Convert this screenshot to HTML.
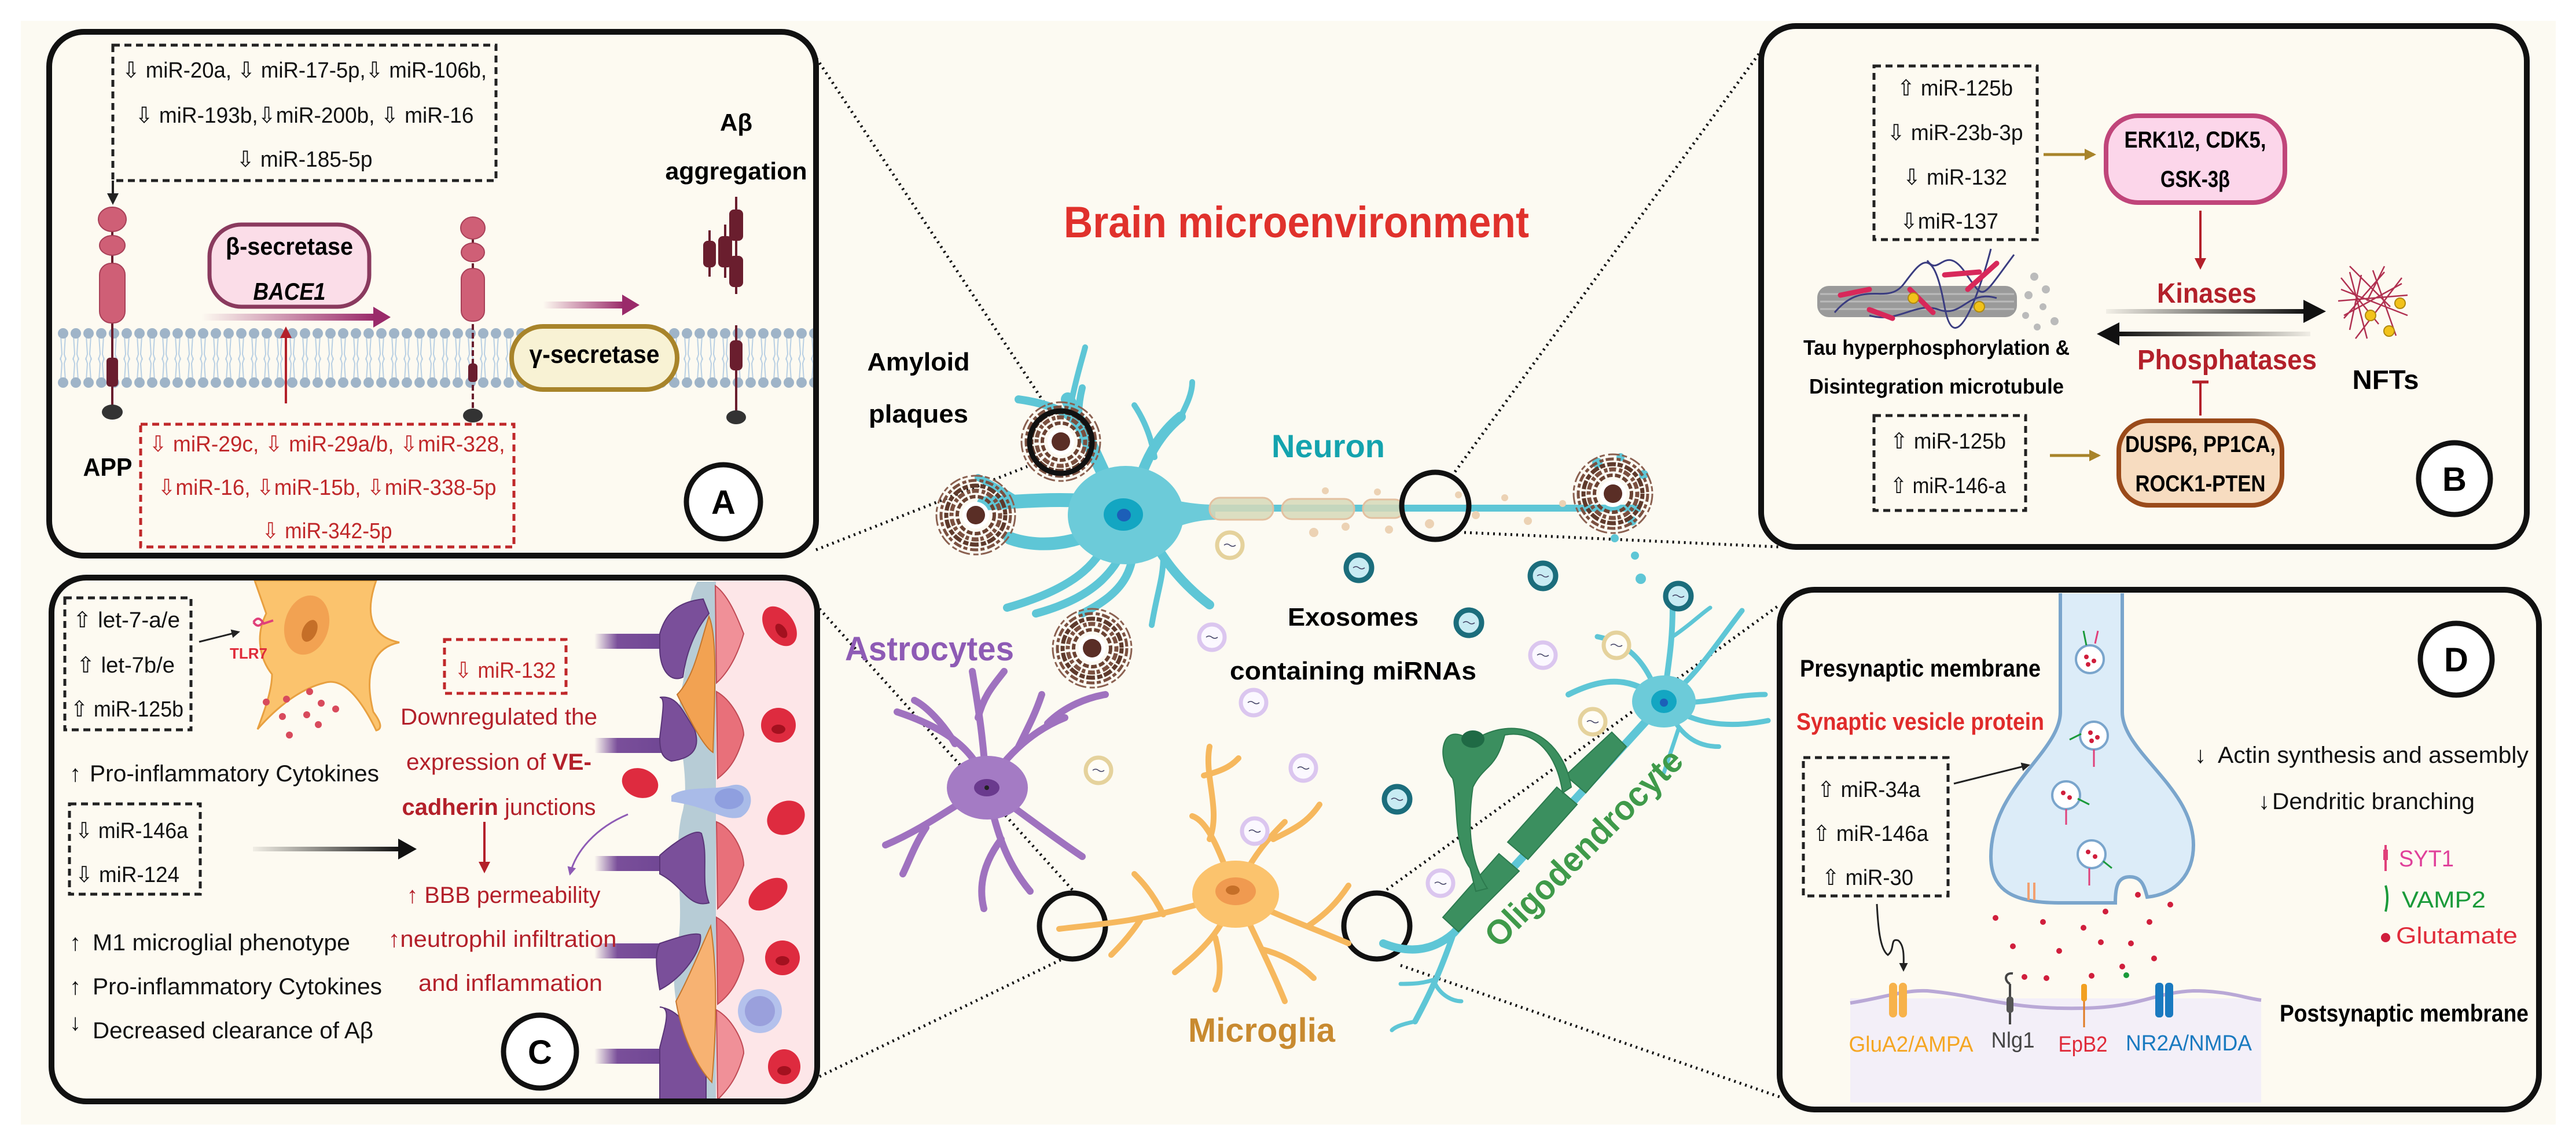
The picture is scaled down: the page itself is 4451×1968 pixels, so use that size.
<!DOCTYPE html>
<html><head><meta charset="utf-8"><style>
html,body{margin:0;padding:0;background:#fff}
svg{display:block}
text{font-family:"Liberation Sans",sans-serif}
</style></head><body>
<svg width="4451" height="1968" viewBox="0 0 4451 1968" xmlns="http://www.w3.org/2000/svg">
<defs>
<marker id="ak" viewBox="0 0 10 10" refX="8" refY="5" markerWidth="5" markerHeight="5" orient="auto"><path d="M0,0L10,5L0,10z" fill="#222"/></marker>
<marker id="ar" viewBox="0 0 10 10" refX="8" refY="5" markerWidth="5" markerHeight="5" orient="auto"><path d="M0,0L10,5L0,10z" fill="#b3202a"/></marker>
<marker id="ag" viewBox="0 0 10 10" refX="8" refY="5" markerWidth="4" markerHeight="4" orient="auto"><path d="M0,0L10,5L0,10z" fill="#a8842a"/></marker>
<marker id="av" viewBox="0 0 10 10" refX="8" refY="5" markerWidth="5" markerHeight="5" orient="auto"><path d="M0,0L10,5L0,10z" fill="#8e5bb5"/></marker>
<linearGradient id="gp" x1="0" x2="1" y1="0" y2="0"><stop offset="0" stop-color="#9a2a6a" stop-opacity="0"/><stop offset="1" stop-color="#9a2a6a"/></linearGradient>
<linearGradient id="gk" x1="0" x2="1" y1="0" y2="0"><stop offset="0" stop-color="#111" stop-opacity="0.05"/><stop offset="1" stop-color="#111"/></linearGradient>
<linearGradient id="gk2" x1="1" x2="0" y1="0" y2="0"><stop offset="0" stop-color="#111" stop-opacity="0.05"/><stop offset="1" stop-color="#111"/></linearGradient>
<linearGradient id="gv" gradientUnits="userSpaceOnUse" x1="1027" x2="1160" y1="0" y2="0"><stop offset="0" stop-color="#7a4f9a" stop-opacity="0"/><stop offset="0.3" stop-color="#7a4f9a"/><stop offset="1" stop-color="#6e4593"/></linearGradient>
<pattern id="mem" x="98" y="0" width="22" height="1968" patternUnits="userSpaceOnUse">
<path d="M7,580 L9,612 L6,622 M15,580 L13,612 L16,622 M7,657 L9,628 L6,618 M15,657 L13,628 L16,618" stroke="#b8cfe3" stroke-width="2" fill="none"/>
<circle cx="11" cy="576" r="9" fill="#9fb4c8"/><circle cx="11" cy="661" r="9" fill="#9fb4c8"/>
</pattern>
<clipPath id="clipC"><rect x="89" y="998" width="1323" height="905" rx="60"/></clipPath>
<g id="exoG"><circle r="22" fill="#fffdf6" stroke="#e5d29c" stroke-width="7"/><path d="M-10,0 q5,-4 10,0 t10,0" stroke="#446" stroke-width="1.5" fill="none"/></g>
<g id="exoT"><circle r="22" fill="#c8ebf3" stroke="#1b6d7c" stroke-width="9"/><path d="M-10,0 q5,-4 10,0 t10,0" stroke="#446" stroke-width="1.5" fill="none"/></g>
<g id="exoL"><circle r="22" fill="#fbf8ff" stroke="#dbc6ef" stroke-width="7"/><path d="M-10,0 q5,-4 10,0 t10,0" stroke="#446" stroke-width="1.5" fill="none"/></g>
<g id="plq">
<circle r="68" fill="none" stroke="#8a6050" stroke-width="3" stroke-dasharray="20 4 9 6"/>
<circle r="60" fill="none" stroke="#7a5040" stroke-width="5" stroke-dasharray="14 5 7 4"/>
<circle r="51" fill="none" stroke="#5e3a2c" stroke-width="7" stroke-dasharray="9 4 15 3"/>
<circle r="42" fill="none" stroke="#7a5040" stroke-width="7" stroke-dasharray="6 3 12 5"/>
<circle r="32" fill="none" stroke="#6a4232" stroke-width="6" stroke-dasharray="10 4"/>
<circle r="23" fill="#fff"/>
<circle r="16" fill="#5a2e26"/>
</g>
</defs>

<rect x="36" y="36" width="4380" height="1907" fill="#fcfaf2"/>

<!-- dotted connectors -->
<g stroke="#111" stroke-width="5" stroke-dasharray="3 7" fill="none">
<line x1="1405" y1="92" x2="1815" y2="712"/>
<line x1="1410" y1="950" x2="1775" y2="806"/>
<line x1="3045" y1="85" x2="2512" y2="818"/>
<line x1="2530" y1="920" x2="3075" y2="945"/>
<line x1="1416" y1="1052" x2="1858" y2="1543"/>
<line x1="1416" y1="1860" x2="1840" y2="1655"/>
<line x1="2388" y1="1543" x2="3075" y2="1045"/>
<line x1="2420" y1="1668" x2="3080" y2="1897"/>
</g>

<!-- ============ PANEL A ============ -->
<rect x="85" y="55" width="1325" height="905" rx="60" fill="#fdfaf1" stroke="#111" stroke-width="10"/>
<rect x="98" y="566" width="1307" height="106" fill="url(#mem)"/>
<rect x="195" y="78" width="662" height="234" fill="none" stroke="#222" stroke-width="5" stroke-dasharray="12 8"/>
<g font-size="38" fill="#111" text-anchor="middle">
<text x="526" y="134" textLength="630" lengthAdjust="spacingAndGlyphs">⇩ miR-20a, ⇩ miR-17-5p,⇩ miR-106b,</text>
<text x="526" y="212" textLength="585" lengthAdjust="spacingAndGlyphs">⇩ miR-193b,⇩miR-200b, ⇩ miR-16</text>
<text x="526" y="288" textLength="235" lengthAdjust="spacingAndGlyphs">⇩ miR-185-5p</text>
</g>
<line x1="195" y1="312" x2="195" y2="350" stroke="#222" stroke-width="4" marker-end="url(#ak)"/>
<g fill="#cf5f76" stroke="#a84058" stroke-width="2">
<line x1="194" y1="400" x2="194" y2="712" stroke="#6a1e2e" stroke-width="4"/>
<ellipse cx="194" cy="379" rx="24" ry="21"/><ellipse cx="194" cy="424" rx="22" ry="17"/>
<rect x="172" y="455" width="44" height="103" rx="20"/>
<rect x="184" y="618" width="20" height="50" rx="6" fill="#6a1e2e" stroke="none"/>
<ellipse cx="194" cy="712" rx="18" ry="13" fill="#333" stroke="none"/>
</g>
<text x="186" y="822" font-size="44" font-weight="bold" text-anchor="middle" textLength="85" lengthAdjust="spacingAndGlyphs">APP</text>
<rect x="362" y="388" width="276" height="142" rx="55" fill="#fbdde8" stroke="#8a3a5e" stroke-width="7"/>
<text x="500" y="440" font-size="42" font-weight="bold" text-anchor="middle" textLength="220" lengthAdjust="spacingAndGlyphs">β-secretase</text>
<text x="500" y="518" font-size="42" font-weight="bold" font-style="italic" text-anchor="middle" textLength="125" lengthAdjust="spacingAndGlyphs">BACE1</text>
<rect x="348" y="542" width="300" height="12" fill="url(#gp)"/><polygon points="645,530 675,548 645,566" fill="#9a2a6a"/>
<line x1="494" y1="697" x2="494" y2="568" stroke="#b3202a" stroke-width="4" marker-end="url(#ar)"/>
<g fill="#cf5f76" stroke="#a84058" stroke-width="2">
<line x1="817" y1="410" x2="817" y2="718" stroke="#6a1e2e" stroke-width="4" stroke-dasharray="10 5"/>
<ellipse cx="817" cy="394" rx="21" ry="19"/><ellipse cx="817" cy="436" rx="20" ry="16"/>
<rect x="797" y="464" width="40" height="91" rx="18"/>
<rect x="809" y="628" width="16" height="32" rx="6" fill="#6a1e2e" stroke="none"/>
<ellipse cx="817" cy="718" rx="17" ry="12" fill="#333" stroke="none"/>
</g>
<rect x="938" y="521" width="140" height="12" fill="url(#gp)"/><polygon points="1075,509 1105,527 1075,545" fill="#9a2a6a"/>
<rect x="884" y="564" width="286" height="109" rx="54" fill="#f8f2d4" stroke="#a8842a" stroke-width="8"/>
<text x="1027" y="627" font-size="44" font-weight="bold" text-anchor="middle" textLength="225" lengthAdjust="spacingAndGlyphs">γ-secretase</text>
<text x="1272" y="226" font-size="42" font-weight="bold" text-anchor="middle">Aβ</text>
<text x="1272" y="310" font-size="42" font-weight="bold" text-anchor="middle" textLength="245" lengthAdjust="spacingAndGlyphs">aggregation</text>
<g fill="#6a1e2e" stroke="#6a1e2e" stroke-width="4">
<line x1="1272" y1="340" x2="1272" y2="508"/><rect x="1262" y="364" width="20" height="50" rx="6"/><rect x="1262" y="444" width="20" height="50" rx="6"/>
<line x1="1253" y1="388" x2="1253" y2="480"/><rect x="1243" y="410" width="20" height="50" rx="6"/>
<line x1="1226" y1="398" x2="1226" y2="478"/><rect x="1217" y="418" width="18" height="42" rx="6"/>
<line x1="1272" y1="562" x2="1272" y2="712"/><rect x="1263" y="590" width="18" height="48" rx="6"/>
<ellipse cx="1272" cy="721" rx="17" ry="12" fill="#333" stroke="none"/>
</g>
<rect x="243" y="733" width="645" height="212" fill="none" stroke="#c0282a" stroke-width="5" stroke-dasharray="12 8"/>
<g font-size="38" fill="#c0282a" text-anchor="middle">
<text x="565" y="780" textLength="615" lengthAdjust="spacingAndGlyphs">⇩ miR-29c, ⇩ miR-29a/b, ⇩miR-328,</text>
<text x="565" y="855" textLength="585" lengthAdjust="spacingAndGlyphs">⇩miR-16, ⇩miR-15b, ⇩miR-338-5p</text>
<text x="565" y="930" textLength="225" lengthAdjust="spacingAndGlyphs">⇩ miR-342-5p</text>
</g>
<circle cx="1250" cy="867" r="64" fill="#fff" stroke="#111" stroke-width="9"/>
<text x="1250" y="888" font-size="58" font-weight="bold" text-anchor="middle">A</text>

<!-- ============ PANEL B ============ -->
<rect x="3043" y="45" width="1323" height="900" rx="60" fill="#fdfaf1" stroke="#111" stroke-width="10"/>
<rect x="3238" y="114" width="282" height="300" fill="none" stroke="#222" stroke-width="5" stroke-dasharray="12 8"/>
<g font-size="38" fill="#111" text-anchor="middle">
<text x="3378" y="165" textLength="200" lengthAdjust="spacingAndGlyphs">⇧ miR-125b</text>
<text x="3378" y="242" textLength="235" lengthAdjust="spacingAndGlyphs">⇩ miR-23b-3p</text>
<text x="3378" y="319" textLength="180" lengthAdjust="spacingAndGlyphs">⇩ miR-132</text>
<text x="3368" y="395" textLength="170" lengthAdjust="spacingAndGlyphs">⇩miR-137</text>
</g>
<line x1="3531" y1="267" x2="3618" y2="267" stroke="#a8842a" stroke-width="5" marker-end="url(#ag)"/>
<rect x="3639" y="200" width="309" height="150" rx="55" fill="#fcd6ea" stroke="#c0457a" stroke-width="8"/>
<text x="3793" y="255" font-size="40" font-weight="bold" text-anchor="middle" textLength="245" lengthAdjust="spacingAndGlyphs">ERK1\2, CDK5,</text>
<text x="3793" y="323" font-size="40" font-weight="bold" text-anchor="middle" textLength="120" lengthAdjust="spacingAndGlyphs">GSK-3β</text>
<line x1="3802" y1="364" x2="3802" y2="462" stroke="#b3202a" stroke-width="4" marker-end="url(#ar)"/>
<text x="3813" y="523" font-size="48" font-weight="bold" fill="#b3202a" text-anchor="middle" textLength="172" lengthAdjust="spacingAndGlyphs">Kinases</text>
<rect x="3639" y="534" width="345" height="8" fill="url(#gk)"/><polygon points="3980,518 4019,538 3980,558" fill="#111"/>
<rect x="3660" y="573" width="332" height="8" fill="url(#gk2)"/><polygon points="3662,557 3623,577 3662,597" fill="#111"/>
<text x="3848" y="638" font-size="48" font-weight="bold" fill="#b3202a" text-anchor="middle" textLength="310" lengthAdjust="spacingAndGlyphs">Phosphatases</text>
<line x1="3802" y1="718" x2="3802" y2="660" stroke="#b3202a" stroke-width="4"/><line x1="3788" y1="660" x2="3816" y2="660" stroke="#b3202a" stroke-width="5"/>
<rect x="3661" y="727" width="282" height="146" rx="52" fill="#f7dcc0" stroke="#9a4a1a" stroke-width="8"/>
<text x="3802" y="781" font-size="40" font-weight="bold" text-anchor="middle" textLength="260" lengthAdjust="spacingAndGlyphs">DUSP6, PP1CA,</text>
<text x="3802" y="849" font-size="40" font-weight="bold" text-anchor="middle" textLength="225" lengthAdjust="spacingAndGlyphs">ROCK1-PTEN</text>
<rect x="3238" y="718" width="262" height="164" fill="none" stroke="#222" stroke-width="5" stroke-dasharray="12 8"/>
<g font-size="38" fill="#111" text-anchor="middle">
<text x="3366" y="775" textLength="200" lengthAdjust="spacingAndGlyphs">⇧ miR-125b</text>
<text x="3366" y="852" textLength="200" lengthAdjust="spacingAndGlyphs">⇧ miR-146-a</text>
</g>
<line x1="3542" y1="787" x2="3626" y2="787" stroke="#a8842a" stroke-width="5" marker-end="url(#ag)"/>
<rect x="3140" y="494" width="345" height="54" rx="20" fill="#9a9a9a"/>
<g stroke="#bbb" stroke-width="3"><line x1="3145" y1="508" x2="3480" y2="508"/><line x1="3145" y1="521" x2="3480" y2="521"/><line x1="3145" y1="534" x2="3480" y2="534"/></g>
<g fill="none" stroke-width="3" stroke="#3a3c80"><path d="M3170,540 C3220,480 3260,530 3290,490 S3340,420 3360,530 S3430,470 3440,430"/><path d="M3230,545 C3280,560 3310,520 3350,535 S3400,500 3450,515"/><path d="M3330,450 C3350,480 3360,420 3395,470 S3420,520 3480,440"/></g>
<g stroke="#d8285a" stroke-width="9" stroke-linecap="round"><line x1="3180" y1="510" x2="3230" y2="500"/><line x1="3300" y1="500" x2="3340" y2="540"/><line x1="3360" y1="475" x2="3420" y2="470"/><line x1="3400" y1="500" x2="3450" y2="455"/><line x1="3230" y1="535" x2="3270" y2="550"/></g>
<circle cx="3306" cy="515" r="9" fill="#f2c21a" stroke="#b08a10" stroke-width="2"/><circle cx="3420" cy="530" r="9" fill="#f2c21a" stroke="#b08a10" stroke-width="2"/>
<g fill="#bbb"><circle cx="3515" cy="478" r="7"/><circle cx="3535" cy="500" r="7"/><circle cx="3505" cy="510" r="7"/><circle cx="3530" cy="530" r="6"/><circle cx="3500" cy="545" r="6"/><circle cx="3550" cy="555" r="7"/><circle cx="3520" cy="565" r="6"/></g>
<text x="3346" y="613" font-size="36" font-weight="bold" text-anchor="middle" textLength="460" lengthAdjust="spacingAndGlyphs">Tau hyperphosphorylation &amp;</text>
<text x="3346" y="680" font-size="36" font-weight="bold" text-anchor="middle" textLength="440" lengthAdjust="spacingAndGlyphs">Disintegration microtubule</text>
<g stroke="#b03050" stroke-width="2.5" fill="none"><path d="M4045,480 L4110,560 M4060,470 L4090,585 M4080,475 L4060,570 M4120,470 L4050,550 M4040,520 L4160,510 M4050,545 L4150,490 M4100,467 L4140,580 M4150,480 L4070,585 M4045,500 L4160,545 M4090,520 L4120,460 M4130,530 L4060,460"/></g>
<circle cx="4096" cy="545" r="9" fill="#f2c21a" stroke="#b08a10" stroke-width="2"/><circle cx="4147" cy="524" r="9" fill="#f2c21a" stroke="#b08a10" stroke-width="2"/><circle cx="4128" cy="572" r="9" fill="#f2c21a" stroke="#b08a10" stroke-width="2"/>
<text x="4122" y="672" font-size="46" font-weight="bold" text-anchor="middle" textLength="115" lengthAdjust="spacingAndGlyphs">NFTs</text>
<circle cx="4241" cy="827" r="62" fill="#fff" stroke="#111" stroke-width="9"/>
<text x="4241" y="848" font-size="58" font-weight="bold" text-anchor="middle">B</text>

<!-- ============ PANEL C ============ -->
<rect x="89" y="998" width="1323" height="905" rx="60" fill="#fdfaf1"/>
<g clip-path="url(#clipC)">
<path d="M440,1003 L650,1003 C630,1060 640,1100 690,1110 C640,1120 630,1170 645,1230 C660,1250 660,1260 650,1262 C620,1200 590,1170 560,1180 C520,1190 480,1220 445,1260 C460,1220 470,1190 470,1165 C450,1140 440,1100 460,1060 Z" fill="#fbc36d" stroke="#e8a040" stroke-width="3"/>
<ellipse cx="530" cy="1080" rx="38" ry="52" fill="#f2a252" transform="rotate(15 530 1080)"/>
<ellipse cx="535" cy="1090" rx="12" ry="20" fill="#c56f28" transform="rotate(25 535 1090)"/>
<g fill="#d84a5c"><circle cx="460" cy="1213" r="6"/><circle cx="495" cy="1208" r="6"/><circle cx="535" cy="1195" r="6"/><circle cx="555" cy="1215" r="6"/><circle cx="488" cy="1238" r="6"/><circle cx="530" cy="1235" r="6"/><circle cx="580" cy="1225" r="6"/><circle cx="550" cy="1252" r="6"/><circle cx="500" cy="1270" r="6"/></g>
<rect x="1233" y="1000" width="180" height="910" fill="#fde6e8"/>
<rect x="1207" y="1005" width="30" height="900" fill="#b7ccd6"/>
<path d="M1205,1005 L1235,1005 L1235,1900 L1205,1900 C1190,1800 1150,1720 1170,1640 C1185,1560 1160,1470 1180,1400 C1195,1330 1160,1260 1180,1180 C1195,1100 1180,1050 1205,1005Z" fill="#b7ccd6"/>
<g stroke="url(#gv)" stroke-width="26"><line x1="1027" y1="1108" x2="1160" y2="1108"/><line x1="1027" y1="1288" x2="1160" y2="1288"/><line x1="1027" y1="1492" x2="1160" y2="1492"/><line x1="1027" y1="1643" x2="1160" y2="1643"/><line x1="1027" y1="1825" x2="1160" y2="1825"/></g>
<g fill="#7a4f9a" stroke="#5a3578" stroke-width="2">
<path d="M1140,1095 C1150,1060 1170,1040 1215,1035 L1225,1060 C1200,1090 1185,1130 1180,1170 C1160,1180 1140,1160 1140,1120Z"/>
<path d="M1140,1275 C1145,1230 1150,1205 1140,1205 C1170,1200 1180,1230 1200,1260 C1210,1290 1200,1310 1160,1315 C1145,1310 1140,1300 1140,1275Z"/>
<path d="M1140,1478 C1160,1460 1200,1430 1212,1440 C1225,1480 1210,1520 1225,1560 C1190,1570 1180,1530 1140,1510Z"/>
<path d="M1140,1630 C1170,1620 1200,1610 1210,1615 C1215,1640 1180,1690 1140,1710 C1135,1680 1130,1650 1140,1630Z"/>
<path d="M1140,1810 C1150,1770 1160,1740 1140,1740 C1180,1745 1200,1790 1220,1840 L1220,1900 L1140,1900Z"/>
</g>
<g fill="#f2a252" stroke="#c5772e" stroke-width="2">
<path d="M1225,1065 C1240,1100 1235,1200 1232,1300 C1215,1290 1190,1240 1170,1200 C1200,1170 1210,1110 1225,1065Z"/>
<path d="M1228,1600 C1240,1680 1238,1780 1230,1870 C1210,1850 1180,1800 1168,1730 C1190,1690 1210,1640 1228,1600Z" fill="#f7b272"/>
</g>
<g fill="#e8707a" stroke="#c04a55" stroke-width="2">
<path d="M1236,1012 C1260,1030 1275,1070 1285,1095 C1275,1130 1260,1160 1238,1180Z" fill="#f09098"/>
<path d="M1238,1195 C1265,1210 1285,1250 1285,1270 C1275,1310 1260,1330 1240,1345Z"/>
<path d="M1238,1420 C1265,1430 1285,1470 1285,1495 C1275,1530 1260,1550 1240,1570Z"/>
<path d="M1238,1585 C1265,1600 1285,1640 1285,1660 C1275,1700 1260,1720 1240,1735Z"/>
<path d="M1238,1745 C1265,1760 1285,1800 1285,1820 C1275,1860 1260,1880 1240,1900Z" fill="#f09098"/>
</g>
<path d="M1160,1375 C1180,1358 1230,1365 1260,1358 C1300,1345 1310,1395 1280,1412 C1250,1420 1230,1395 1160,1385Z" fill="#a9bbe8"/>
<ellipse cx="1260" cy="1380" rx="25" ry="18" fill="#8f9fdf"/>
<g fill="#de2b3f"><ellipse cx="1347" cy="1082" rx="25" ry="38" transform="rotate(-35 1347 1082)"/><ellipse cx="1345" cy="1253" rx="30" ry="30"/><ellipse cx="1358" cy="1413" rx="28" ry="34" transform="rotate(60 1358 1413)"/><ellipse cx="1327" cy="1545" rx="22" ry="38" transform="rotate(55 1327 1545)"/><ellipse cx="1352" cy="1655" rx="30" ry="30"/><ellipse cx="1355" cy="1843" rx="28" ry="30"/><ellipse cx="1106" cy="1353" rx="32" ry="25" transform="rotate(20 1106 1353)"/></g>
<g fill="#a3111f"><ellipse cx="1350" cy="1090" rx="8" ry="14" transform="rotate(-35 1350 1090)"/><ellipse cx="1345" cy="1260" rx="12" ry="8"/><ellipse cx="1352" cy="1660" rx="12" ry="8"/><ellipse cx="1355" cy="1850" rx="12" ry="8"/></g>
<circle cx="1313" cy="1747" r="38" fill="#b4c1ec"/><circle cx="1313" cy="1747" r="26" fill="#9aa0dc"/>
</g>
<rect x="89" y="998" width="1323" height="905" rx="60" fill="none" stroke="#111" stroke-width="10"/>
<rect x="112" y="1033" width="218" height="228" fill="none" stroke="#222" stroke-width="5" stroke-dasharray="12 8"/>
<g font-size="38" fill="#111">
<text x="126" y="1084" textLength="185" lengthAdjust="spacingAndGlyphs">⇧ let-7-a/e</text>
<text x="132" y="1162" textLength="170" lengthAdjust="spacingAndGlyphs">⇧ let-7b/e</text>
<text x="122" y="1238" textLength="195" lengthAdjust="spacingAndGlyphs">⇧ miR-125b</text>
</g>
<line x1="344" y1="1109" x2="412" y2="1092" stroke="#222" stroke-width="3" marker-end="url(#ak)"/>
<path d="M438,1075 q8,-12 16,0 q-8,12 -16,0 M454,1078 l18,-6" stroke="#e0407a" stroke-width="4" fill="none"/>
<text x="397" y="1138" font-size="26" font-weight="bold" fill="#e02b3a">TLR7</text>
<g font-size="40" fill="#111">
<text x="120" y="1350">↑</text><text x="155" y="1350" textLength="500" lengthAdjust="spacingAndGlyphs">Pro-inflammatory Cytokines</text>
<text x="120" y="1642">↑</text><text x="160" y="1642" textLength="445" lengthAdjust="spacingAndGlyphs">M1 microglial phenotype</text>
<text x="120" y="1718">↑</text><text x="160" y="1718" textLength="500" lengthAdjust="spacingAndGlyphs">Pro-inflammatory Cytokines</text>
<text x="120" y="1780">↓</text><text x="160" y="1794" textLength="485" lengthAdjust="spacingAndGlyphs">Decreased clearance of Aβ</text>
</g>
<rect x="120" y="1389" width="226" height="156" fill="none" stroke="#222" stroke-width="5" stroke-dasharray="12 8"/>
<g font-size="38" fill="#111">
<text x="130" y="1448" textLength="195" lengthAdjust="spacingAndGlyphs">⇩ miR-146a</text>
<text x="130" y="1524" textLength="180" lengthAdjust="spacingAndGlyphs">⇩ miR-124</text>
</g>
<rect x="437" y="1463" width="255" height="8" fill="url(#gk)"/><polygon points="688,1449 720,1467 688,1485" fill="#111"/>
<rect x="768" y="1105" width="210" height="93" fill="none" stroke="#c0282a" stroke-width="5" stroke-dasharray="12 8"/>
<text x="873" y="1171" font-size="38" fill="#c0282a" text-anchor="middle" textLength="175" lengthAdjust="spacingAndGlyphs">⇩ miR-132</text>
<g font-size="40" fill="#b3202a" text-anchor="middle">
<text x="862" y="1252" textLength="340" lengthAdjust="spacingAndGlyphs">Downregulated the</text>
<text x="862" y="1330" textLength="320" lengthAdjust="spacingAndGlyphs">expression of <tspan font-weight="bold">VE-</tspan></text>
<text x="862" y="1408" textLength="335" lengthAdjust="spacingAndGlyphs"><tspan font-weight="bold">cadherin</tspan> junctions</text>
<text x="870" y="1560" textLength="335" lengthAdjust="spacingAndGlyphs">↑ BBB permeability</text>
<text x="868" y="1636" textLength="395" lengthAdjust="spacingAndGlyphs">↑neutrophil infiltration</text>
<text x="882" y="1712" textLength="318" lengthAdjust="spacingAndGlyphs">and inflammation</text>
</g>
<line x1="837" y1="1420" x2="837" y2="1505" stroke="#b3202a" stroke-width="4" marker-end="url(#ar)"/>
<path d="M1085,1407 C1030,1430 995,1470 985,1510" stroke="#8e5bb5" stroke-width="3" fill="none" marker-end="url(#av)"/>
<circle cx="933" cy="1817" r="63" fill="#fff" stroke="#111" stroke-width="9"/>
<text x="933" y="1838" font-size="58" font-weight="bold" text-anchor="middle">C</text>

<!-- ============ PANEL D ============ -->
<rect x="3075" y="1019" width="1312" height="898" rx="60" fill="#fdfaf1" stroke="#111" stroke-width="10"/>
<rect x="3197" y="1725" width="710" height="180" fill="#f3eff8"/>
<path d="M3197,1733 C3250,1725 3290,1710 3330,1712 C3420,1720 3470,1745 3600,1742 C3700,1740 3720,1715 3790,1712 C3850,1712 3880,1725 3907,1728" stroke="#b9a8d6" stroke-width="6" fill="none"/>
<path d="M3560,1025 L3560,1230 C3560,1300 3440,1360 3440,1480 C3440,1540 3480,1560 3560,1560 L3655,1560 C3655,1530 3660,1515 3680,1515 C3700,1515 3705,1530 3710,1550 C3760,1545 3790,1510 3790,1460 C3790,1360 3667,1300 3667,1230 L3667,1025" fill="#dcecf8" stroke="#7aa5cc" stroke-width="6"/>
<g fill="#fff" stroke="#7aa5cc" stroke-width="4"><circle cx="3611" cy="1139" r="24"/><circle cx="3618" cy="1271" r="24"/><circle cx="3570" cy="1374" r="24"/><circle cx="3614" cy="1476" r="24"/></g>
<g fill="#d01e3c"><circle cx="3605" cy="1135" r="4"/><circle cx="3618" cy="1142" r="4"/><circle cx="3608" cy="1148" r="4"/><circle cx="3612" cy="1266" r="4"/><circle cx="3624" cy="1274" r="4"/><circle cx="3614" cy="1280" r="4"/><circle cx="3565" cy="1370" r="4"/><circle cx="3576" cy="1378" r="4"/><circle cx="3608" cy="1472" r="4"/><circle cx="3620" cy="1480" r="4"/></g>
<g stroke="#e0407a" stroke-width="3"><line x1="3620" y1="1112" x2="3625" y2="1090"/><line x1="3618" y1="1295" x2="3618" y2="1325"/><line x1="3570" y1="1398" x2="3570" y2="1425"/><line x1="3610" y1="1500" x2="3610" y2="1530"/></g>
<g stroke="#1a9a3a" stroke-width="3" fill="none"><path d="M3605,1115 l-5,-25"/><path d="M3596,1268 l-20,10"/><path d="M3590,1380 l20,10"/><path d="M3634,1488 l15,12"/></g>
<g fill="#d01e3c"><circle cx="3694" cy="1546" r="5"/><circle cx="3750" cy="1563" r="5"/><circle cx="3448" cy="1586" r="5"/><circle cx="3530" cy="1593" r="5"/><circle cx="3600" cy="1603" r="5"/><circle cx="3638" cy="1575" r="5"/><circle cx="3714" cy="1593" r="5"/><circle cx="3478" cy="1635" r="5"/><circle cx="3558" cy="1643" r="5"/><circle cx="3630" cy="1628" r="5"/><circle cx="3682" cy="1630" r="5"/><circle cx="3722" cy="1656" r="5"/><circle cx="3667" cy="1670" r="5"/><circle cx="3498" cy="1688" r="5"/><circle cx="3536" cy="1690" r="5"/><circle cx="3614" cy="1686" r="5"/></g>
<circle cx="3674" cy="1685" r="5" fill="#1a9a3a"/>
<path d="M3505,1555 l0,-30 M3515,1555 l0,-30" stroke="#f2a070" stroke-width="4"/>
<g><rect x="3264" y="1698" width="14" height="60" rx="7" fill="#f7b24a"/><rect x="3281" y="1698" width="14" height="60" rx="7" fill="#f7b24a"/></g>
<g><line x1="3473" y1="1700" x2="3473" y2="1770" stroke="#444" stroke-width="4"/><rect x="3467" y="1722" width="12" height="28" rx="5" fill="#555"/><path d="M3473,1700 c-10,-5 -10,-20 5,-18" stroke="#444" stroke-width="4" fill="none"/></g>
<g><line x1="3601" y1="1700" x2="3601" y2="1775" stroke="#e07a20" stroke-width="3"/><rect x="3596" y="1700" width="10" height="30" rx="4" fill="#f2a020"/></g>
<g fill="#1a7ac0"><rect x="3724" y="1698" width="14" height="60" rx="6"/><rect x="3741" y="1698" width="14" height="60" rx="6"/></g>
<g font-size="38" text-anchor="middle">
<text x="3302" y="1817" fill="#f5a623" textLength="215" lengthAdjust="spacingAndGlyphs">GluA2/AMPA</text>
<text x="3478" y="1810" fill="#444" textLength="75" lengthAdjust="spacingAndGlyphs">Nlg1</text>
<text x="3599" y="1817" fill="#e02b3a" textLength="85" lengthAdjust="spacingAndGlyphs">EpB2</text>
<text x="3782" y="1815" fill="#1a7ac0" textLength="218" lengthAdjust="spacingAndGlyphs">NR2A/NMDA</text>
</g>
<text x="3318" y="1169" font-size="42" font-weight="bold" text-anchor="middle" textLength="416" lengthAdjust="spacingAndGlyphs">Presynaptic membrane</text>
<text x="3318" y="1261" font-size="42" font-weight="bold" fill="#e02b2b" text-anchor="middle" textLength="428" lengthAdjust="spacingAndGlyphs">Synaptic vesicle protein</text>
<rect x="3116" y="1309" width="250" height="239" fill="none" stroke="#222" stroke-width="5" stroke-dasharray="12 8"/>
<g font-size="38" fill="#111">
<text x="3140" y="1377" textLength="178" lengthAdjust="spacingAndGlyphs">⇧ miR-34a</text>
<text x="3132" y="1453" textLength="200" lengthAdjust="spacingAndGlyphs">⇧ miR-146a</text>
<text x="3148" y="1529" textLength="158" lengthAdjust="spacingAndGlyphs">⇧ miR-30</text>
</g>
<line x1="3376" y1="1354" x2="3505" y2="1322" stroke="#222" stroke-width="3" marker-end="url(#ak)"/>
<path d="M3243,1562 C3245,1600 3248,1640 3262,1650 C3275,1640 3265,1620 3280,1625 C3292,1635 3289,1660 3289,1676" stroke="#222" stroke-width="3" fill="none" marker-end="url(#ak)"/>
<text x="3939" y="1765" font-size="42" font-weight="bold" textLength="430" lengthAdjust="spacingAndGlyphs">Postsynaptic membrane</text>
<g font-size="40" fill="#111">
<text x="3792" y="1318">↓</text><text x="3832" y="1318" textLength="537" lengthAdjust="spacingAndGlyphs">Actin synthesis and assembly</text>
<text x="3902" y="1398">↓</text><text x="3926" y="1398" textLength="350" lengthAdjust="spacingAndGlyphs">Dendritic branching</text>
</g>
<g font-size="40">
<line x1="4122" y1="1460" x2="4122" y2="1505" stroke="#e0407a" stroke-width="4"/><rect x="4118" y="1468" width="8" height="18" fill="#e0407a"/>
<text x="4145" y="1497" fill="#e0409a" textLength="95" lengthAdjust="spacingAndGlyphs">SYT1</text>
<path d="M4122,1530 q6,20 0,45" stroke="#1a9a3a" stroke-width="4" fill="none"/>
<text x="4150" y="1568" fill="#1a9a3a" textLength="145" lengthAdjust="spacingAndGlyphs">VAMP2</text>
<circle cx="4122" cy="1620" r="8" fill="#d01e3c"/>
<text x="4140" y="1630" fill="#e02b3a" textLength="210" lengthAdjust="spacingAndGlyphs">Glutamate</text>
</g>
<circle cx="4244" cy="1139" r="62" fill="#fff" stroke="#111" stroke-width="9"/>
<text x="4244" y="1160" font-size="58" font-weight="bold" text-anchor="middle">D</text>

<!-- ============ CENTER ============ -->
<text x="2240" y="410" font-size="76" font-weight="bold" fill="#e0312c" text-anchor="middle" textLength="804" lengthAdjust="spacingAndGlyphs">Brain microenvironment</text>
<text x="1587" y="640" font-size="44" font-weight="bold" text-anchor="middle" textLength="177" lengthAdjust="spacingAndGlyphs">Amyloid</text>
<text x="1587" y="730" font-size="44" font-weight="bold" text-anchor="middle" textLength="172" lengthAdjust="spacingAndGlyphs">plaques</text>

<g stroke="#5ec6d6" stroke-linecap="round" fill="none">
<path d="M1940,890 L1880,760 L1845,690" stroke-width="24"/>
<path d="M1880,760 C1860,720 1830,700 1760,690" stroke-width="14"/>
<path d="M1900,800 C1870,770 1855,730 1870,670" stroke-width="12"/>
<path d="M1940,890 C1910,860 1850,860 1700,870" stroke-width="24"/>
<path d="M1760,866 C1720,840 1700,830 1690,825" stroke-width="12"/>
<path d="M1940,890 C1880,940 1800,950 1745,930" stroke-width="22"/>
<path d="M1920,920 C1900,960 1880,1010 1740,1050" stroke-width="14"/>
<path d="M1950,930 C1930,980 1900,1030 1790,1060" stroke-width="14"/>
<path d="M1960,920 C1960,980 1950,1020 1870,1060" stroke-width="14"/>
<path d="M1980,910 C2000,950 2030,1000 2090,1045" stroke-width="16"/>
<path d="M2010,960 C2010,1000 2000,1020 1990,1080" stroke-width="10"/>
<path d="M1960,860 C1970,820 1990,760 2040,720" stroke-width="18"/>
<path d="M1995,790 C1990,760 1980,730 1960,700" stroke-width="10"/>
<path d="M2040,720 C2050,700 2060,680 2060,660" stroke-width="10"/>
<path d="M1850,700 C1860,650 1870,620 1875,600" stroke-width="10"/>
</g>
<ellipse cx="1945" cy="890" rx="100" ry="85" fill="#6ccbd9"/>
<path d="M1990,855 C2030,865 2060,872 2100,872 L2100,898 C2060,898 2030,912 1990,925Z" fill="#6ccbd9"/>
<ellipse cx="1941" cy="889" rx="34" ry="28" fill="#13a6c2"/><ellipse cx="1942" cy="890" rx="12" ry="11" fill="#1c5fb8"/>
<rect x="2095" y="872" width="740" height="12" fill="#5ec6d6"/>
<g fill="#d6d8b8" fill-opacity="0.85" stroke="#e3c0a0" stroke-width="3"><rect x="2090" y="860" width="110" height="38" rx="18"/><rect x="2215" y="862" width="125" height="35" rx="17"/><rect x="2355" y="863" width="70" height="32" rx="15"/></g>
<g fill="#ecd2b4"><circle cx="2290" cy="848" r="6"/><circle cx="2325" cy="910" r="7"/><circle cx="2270" cy="920" r="8"/><circle cx="2380" cy="850" r="6"/><circle cx="2400" cy="915" r="7"/><circle cx="2470" cy="905" r="8"/><circle cx="2520" cy="855" r="6"/><circle cx="2550" cy="890" r="7"/><circle cx="2600" cy="860" r="6"/><circle cx="2640" cy="900" r="7"/><circle cx="2700" cy="870" r="6"/></g>
<g fill="#5ec6d6"><circle cx="2760" cy="800" r="9"/><circle cx="2800" cy="790" r="7"/><circle cx="2840" cy="820" r="8"/><circle cx="2820" cy="900" r="8"/><circle cx="2790" cy="930" r="7"/><circle cx="2825" cy="960" r="7"/><circle cx="2835" cy="1000" r="9"/></g>
<text x="2295" y="790" font-size="56" font-weight="bold" fill="#14a3ae" text-anchor="middle" textLength="196" lengthAdjust="spacingAndGlyphs">Neuron</text>
<use href="#plq" x="1833" y="763"/>
<use href="#plq" x="1686" y="890"/>
<use href="#plq" x="1887" y="1120"/>
<use href="#plq" x="2787" y="853"/>
<g fill="none" stroke="#111" stroke-width="9"><circle cx="1833" cy="764" r="54"/><circle cx="2480" cy="874" r="58"/><circle cx="1853" cy="1600" r="57"/><circle cx="2379" cy="1600" r="57"/></g>

<text x="2338" y="1081" font-size="44" font-weight="bold" text-anchor="middle" textLength="226" lengthAdjust="spacingAndGlyphs">Exosomes</text>
<text x="2338" y="1174" font-size="44" font-weight="bold" text-anchor="middle" textLength="426" lengthAdjust="spacingAndGlyphs">containing miRNAs</text>

<g stroke="#9f72bf" stroke-linecap="round" fill="none" stroke-width="12">
<path d="M1704,1361 C1690,1300 1640,1260 1550,1230"/><path d="M1650,1285 C1630,1250 1600,1220 1580,1210"/>
<path d="M1704,1361 C1700,1280 1690,1220 1680,1160"/><path d="M1690,1240 C1700,1200 1720,1180 1735,1160"/>
<path d="M1704,1361 C1740,1300 1790,1260 1840,1240"/><path d="M1760,1290 C1780,1250 1790,1230 1800,1200"/><path d="M1810,1250 C1840,1220 1880,1205 1910,1200"/>
<path d="M1704,1361 C1650,1390 1600,1430 1530,1460"/><path d="M1600,1430 C1580,1460 1570,1490 1560,1510"/>
<path d="M1704,1361 C1720,1420 1730,1480 1780,1540"/><path d="M1730,1450 C1700,1490 1690,1530 1700,1570"/>
<path d="M1704,1361 C1760,1400 1810,1440 1870,1480"/>
</g>
<ellipse cx="1706" cy="1361" rx="70" ry="55" fill="#a47bc4"/>
<ellipse cx="1705" cy="1361" rx="22" ry="15" fill="#6a3a8e"/><circle cx="1705" cy="1361" r="4" fill="#222"/>
<text x="1606" y="1141" font-size="58" font-weight="bold" fill="#8e5bb5" text-anchor="middle" textLength="292" lengthAdjust="spacingAndGlyphs">Astrocytes</text>

<g stroke="#f6b85e" stroke-linecap="round" fill="none" stroke-width="10">
<path d="M2135,1545 C2080,1560 2010,1580 1950,1590 C1900,1598 1870,1600 1830,1605"/>
<path d="M2010,1580 C1990,1540 1970,1520 1960,1510"/><path d="M1970,1590 C1950,1620 1930,1640 1920,1650"/>
<path d="M2135,1545 C2110,1480 2090,1420 2060,1410"/><path d="M2090,1450 C2110,1400 2080,1340 2090,1290"/><path d="M2080,1340 C2120,1330 2130,1320 2140,1310"/>
<path d="M2135,1545 C2160,1480 2200,1440 2220,1420"/><path d="M2200,1450 C2240,1430 2260,1420 2280,1390"/>
<path d="M2135,1545 C2200,1580 2260,1600 2330,1630"/><path d="M2260,1600 C2290,1580 2310,1560 2330,1530"/>
<path d="M2135,1545 C2110,1610 2080,1640 2030,1680"/><path d="M2100,1620 C2110,1660 2110,1690 2100,1710"/>
<path d="M2135,1545 C2170,1620 2200,1680 2220,1730"/><path d="M2180,1640 C2220,1650 2250,1670 2270,1690"/>
</g>
<ellipse cx="2135" cy="1545" rx="75" ry="58" fill="#fbc36d"/>
<ellipse cx="2135" cy="1540" rx="35" ry="24" fill="#f09a50"/><ellipse cx="2130" cy="1538" rx="12" ry="8" fill="#c56f28"/>
<text x="2180" y="1800" font-size="58" font-weight="bold" fill="#c88a30" text-anchor="middle" textLength="254" lengthAdjust="spacingAndGlyphs">Microglia</text>

<g stroke="#5ec6d6" stroke-linecap="round" fill="none">
<path d="M2875,1212 L2512,1612 C2480,1640 2440,1650 2390,1630" stroke-width="14"/>
<path d="M2512,1612 C2495,1660 2480,1700 2445,1765" stroke-width="10"/>
<path d="M2485,1690 C2460,1700 2440,1700 2420,1700" stroke-width="7"/>
<path d="M2480,1700 C2490,1720 2510,1730 2525,1730" stroke-width="7"/>
<path d="M2445,1765 C2420,1770 2410,1775 2405,1780" stroke-width="7"/>
<path d="M2875,1212 C2830,1180 2790,1160 2710,1200" stroke-width="10"/>
<path d="M2860,1190 C2840,1140 2810,1110 2760,1100" stroke-width="9"/>
<path d="M2875,1212 C2880,1160 2890,1120 2890,1050" stroke-width="10"/>
<path d="M2890,1100 C2920,1080 2940,1060 2955,1050" stroke-width="7"/>
<path d="M2875,1212 C2930,1170 2960,1120 3010,1055" stroke-width="9"/>
<path d="M2875,1212 C2940,1220 2990,1200 3050,1200" stroke-width="9"/>
<path d="M2875,1212 C2920,1250 2980,1260 3055,1245" stroke-width="9"/>
<path d="M2875,1212 C2900,1270 2930,1290 2970,1290" stroke-width="8"/>
<path d="M2900,1260 C2890,1290 2880,1320 2875,1335" stroke-width="7"/>
</g>
<ellipse cx="2875" cy="1212" rx="55" ry="45" fill="#6ccbd9"/>
<ellipse cx="2875" cy="1212" rx="22" ry="20" fill="#13a6c2"/><circle cx="2875" cy="1214" r="7" fill="#1c5fb8"/>
<g fill="#3b8f5f" stroke="#2c7a4e" stroke-width="2">
<path d="M2493,1585 L2590,1475 L2625,1505 L2520,1610Z"/>
<path d="M2605,1455 L2690,1360 L2725,1390 L2640,1485Z"/>
<path d="M2705,1340 L2785,1265 L2810,1290 L2740,1370Z"/>
<path d="M2543,1281 C2490,1240 2480,1310 2510,1345 C2520,1380 2510,1460 2540,1500 L2550,1540 L2570,1535 C2540,1490 2535,1430 2545,1360 C2565,1320 2585,1330 2600,1270 C2650,1260 2690,1300 2700,1370 L2715,1360 C2700,1270 2620,1230 2543,1281Z"/>
</g>
<ellipse cx="2545" cy="1277" rx="20" ry="15" fill="#1f6a45"/>
<text x="0" y="0" font-size="60" font-weight="bold" fill="#3f9a4a" transform="translate(2590,1640) rotate(-45)" textLength="455" lengthAdjust="spacingAndGlyphs">Oligodendrocyte</text>

<use href="#exoG" x="2125" y="942"/><use href="#exoT" x="2348" y="981"/><use href="#exoT" x="2666" y="995"/>
<use href="#exoT" x="2538" y="1076"/><use href="#exoL" x="2094" y="1101"/><use href="#exoL" x="2666" y="1132"/>
<use href="#exoL" x="2166" y="1214"/><use href="#exoG" x="2793" y="1115"/><use href="#exoG" x="1898" y="1331"/>
<use href="#exoL" x="2252" y="1327"/><use href="#exoT" x="2414" y="1381"/><use href="#exoL" x="2168" y="1436"/>
<use href="#exoL" x="2489" y="1526"/><use href="#exoG" x="2752" y="1247"/><use href="#exoT" x="2900" y="1030"/>
</svg>
</body></html>
